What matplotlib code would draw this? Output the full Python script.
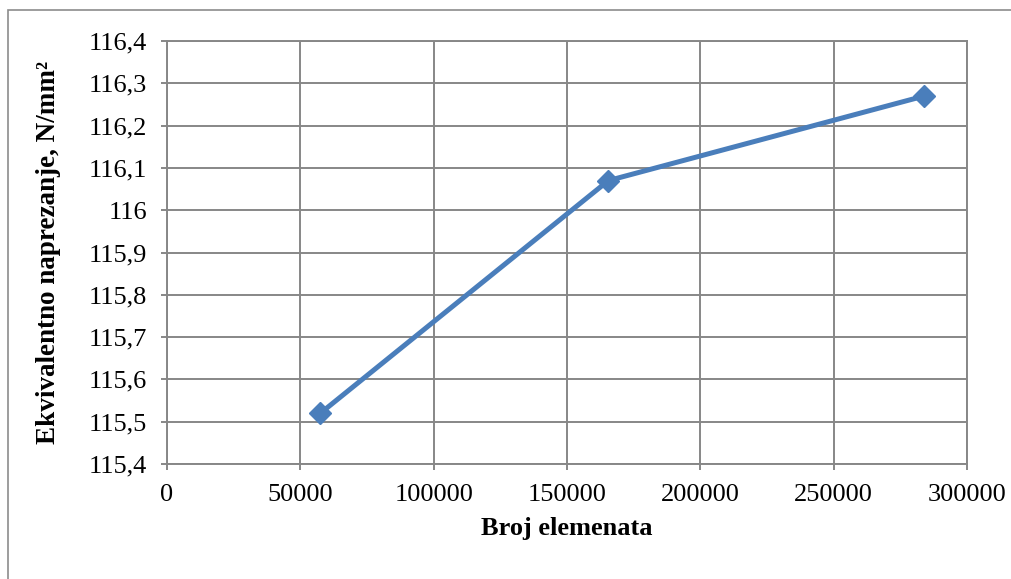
import matplotlib
matplotlib.use('Agg')
import matplotlib.pyplot as plt
from matplotlib.ticker import FuncFormatter, MultipleLocator
from matplotlib.patches import Rectangle

# data
broj_elemenata = [57500, 165500, 284000]
naprezanje = [115.52, 116.07, 116.27]

x_ticks = [0, 50000, 100000, 150000, 200000, 250000, 300000]

plt.rcParams['font.family'] = ['Liberation Serif', 'DejaVu Serif']

fig = plt.figure(figsize=(10.11, 5.79), dpi=100)
ax = fig.add_axes([0.1652, 0.1986, 0.7913, 0.7306])

# outer chart frame
fig.patches.append(Rectangle((8 / 1011, -0.1), 1.2, 1 - 10 / 579 + 0.1,
                             transform=fig.transFigure, fill=False,
                             edgecolor='#8c8c8c', linewidth=1.2))

grid_col = '#878787'
ax.plot(broj_elemenata, naprezanje, color='#4a7ebb', linewidth=3.6,
        marker='D', markersize=11, zorder=3)

ax.set_xlim(0, 300000)
ax.set_ylim(115.4, 116.4)
ax.set_xticks(x_ticks)
ax.yaxis.set_major_locator(MultipleLocator(0.1))
ax.yaxis.set_major_formatter(FuncFormatter(lambda v, p: f'{v:.1f}'.rstrip('0').rstrip('.').replace('.', ',')))

ax.grid(True, color=grid_col, linewidth=1.4)
ax.set_axisbelow(True)
for s in ax.spines.values():
    s.set_color(grid_col)
    s.set_linewidth(1.4)
ax.tick_params(axis='both', colors=grid_col, length=4.5, width=1.4, labelsize=19,
               labelcolor='black')
ax.tick_params(axis='x', pad=10)
ax.tick_params(axis='y', pad=10)

ax.set_xlabel('Broj elemenata', fontsize=19, fontweight='bold', labelpad=8)
ax.set_ylabel('Ekvivalentno naprezanje, N/mm²', fontsize=19.5, fontweight='bold', labelpad=20)

fig.savefig('out.png', dpi=100)
